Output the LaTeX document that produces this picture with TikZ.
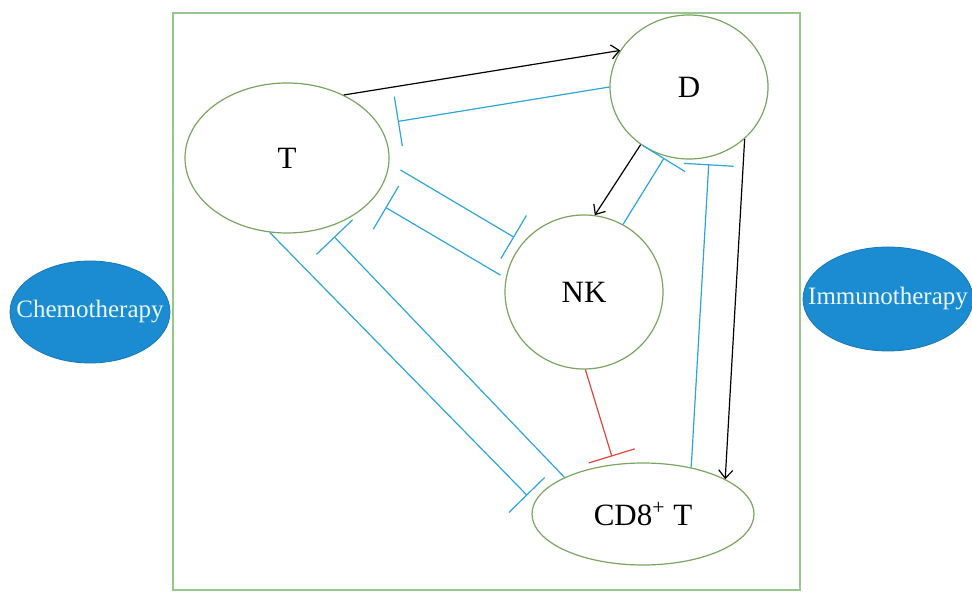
\documentclass[tikz,border=0pt]{standalone}
\usepackage{fontspec}
\setmainfont{Liberation Serif}
\usetikzlibrary{arrows.meta,shapes.geometric}

\definecolor{cellgreen}{RGB}{120,165,95}
\definecolor{framegreen}{RGB}{150,200,140}
\definecolor{inhblue}{RGB}{45,165,215}
\definecolor{therapyblue}{RGB}{28,140,210}
\definecolor{inhred}{RGB}{225,70,60}

\begin{document}
\begin{tikzpicture}[
    x=0.5pt, y=-0.5pt,
    cell/.style={draw=cellgreen, ellipse, inner sep=0pt, line width=0.6pt, font=\fontsize{15.5}{18}\selectfont},
    therapy/.style={draw=therapyblue!85!black, fill=therapyblue, ellipse, inner sep=0pt, text=cyan!8, font=\fontsize{12.5}{15}\selectfont},
    act/.style={draw=black, line width=0.6pt, -{Straight Barb[length=4pt,width=7pt]}},
    inh/.style={draw=inhblue, line width=0.6pt, -{Bar[width=25pt]}},
    inhred/.style={draw=inhred, line width=0.6pt, -{Bar[width=24pt]}}
]
\useasboundingbox (0,0) rectangle (972,592);

% Frame
\draw[framegreen, line width=1pt] (173,13) rectangle (800,590);

% Cells
\node[cell, minimum width=102pt, minimum height=75pt] (T) at (287,158) {T};
\node[cell, minimum width=79pt, minimum height=72pt] (D) at (689,87) {D};
\node[cell, minimum width=79pt, minimum height=77pt] (NK) at (584,292) {NK};
\node[cell, minimum width=111pt, minimum height=51pt] (CD8) at (643,514) {CD8\textsuperscript{+} T};

% Therapies
\node[therapy, minimum width=80pt, minimum height=51pt] (chemo) at (90,312) {\makebox[0pt]{Chemotherapy}};
\node[therapy, minimum width=85pt, minimum height=52pt] (immuno) at (888,299) {\makebox[0pt]{Immunotherapy}};

% Edges
\draw[act] (T.48) -- (D.152);
\draw[inh, shorten >=9.5pt] (D.180) -- (T.20);
\draw[inh, shorten <=6.5pt, shorten >=5pt] (T.-3) -- (NK.141);
\draw[inh, shorten <=3pt, shorten >=7.5pt] (NK.170) -- (T.-26);
\draw[inh, shorten >=5pt] (T.-103) -- (CD8.174);
\draw[inh, shorten >=6pt] (CD8.155) -- (T.-61);
\draw[act] (D.-130) -- (NK.82);
\draw[inh, shorten >=1pt] (NK.60) -- (D.-109);
\draw[inh, shorten >=3.5pt] (CD8.44) -- (D.-74);
\draw[act] (D.-43) -- (CD8.23);
\draw[inhred, shorten >=4pt] (NK.-89) -- (CD8.120);

\end{tikzpicture}
\end{document}
